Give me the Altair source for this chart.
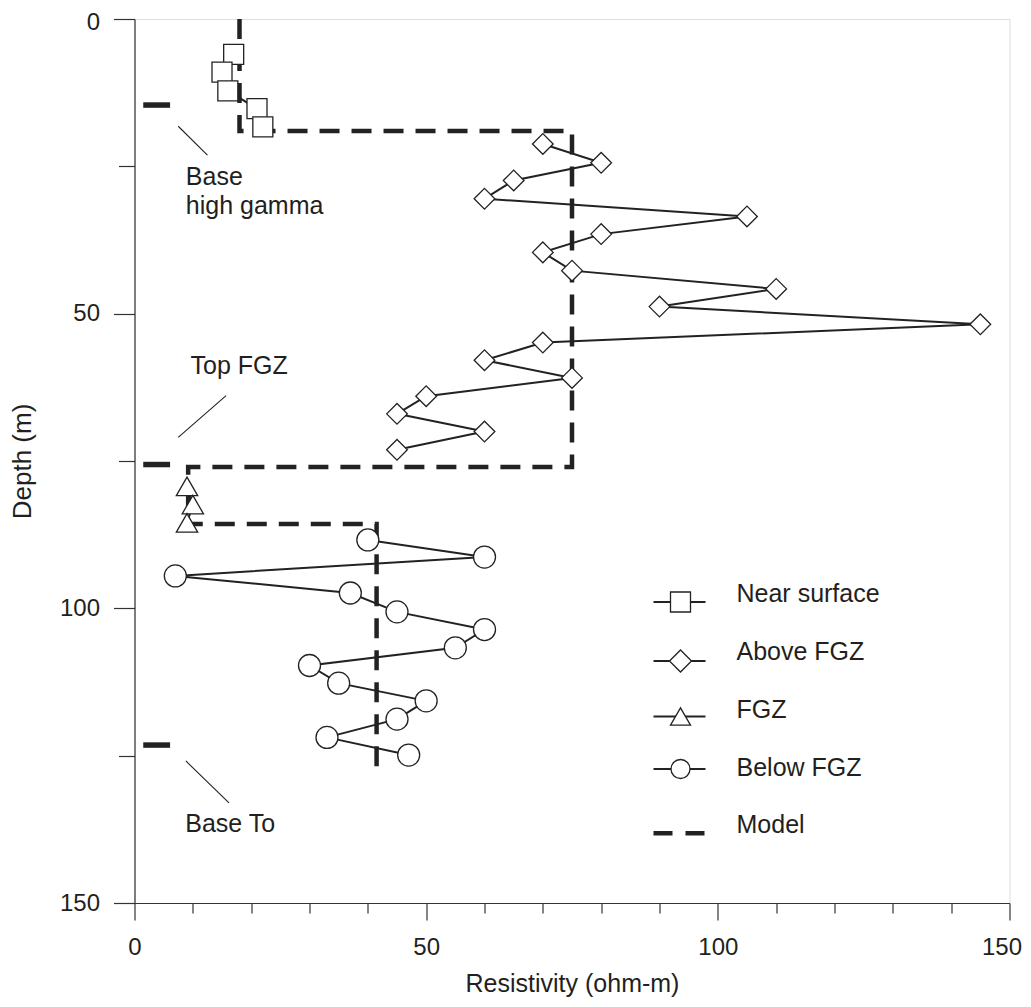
import altair as alt
import pandas as pd

# ---------------- data ----------------
near_res = [17, 15, 16, 21, 22]
near_depth = [6.0, 9.0, 12.2, 15.2, 18.3]

above_res = [70, 80, 65, 60, 105, 80, 70, 75, 110, 90, 145, 70, 60, 75, 50, 45, 60, 45]
above_depth = [21.2, 24.4, 27.4, 30.5, 33.5, 36.5, 39.6, 42.7, 45.8, 48.8, 51.8,
               54.9, 57.9, 60.9, 64.0, 67.0, 70.0, 73.1]

fgz_res = [9, 10, 9]
fgz_depth = [79.3, 82.4, 85.5]

below_res = [40, 60, 7, 37, 45, 60, 55, 30, 35, 50, 45, 33, 47]
below_depth = [88.4, 91.3, 94.5, 97.4, 100.6, 103.6, 106.7, 109.7, 112.7, 115.7,
               118.8, 121.9, 124.9]

model_res = [18, 18, 75, 75, 9.2, 9.2, 41.5, 41.5]
model_depth = [0, 19, 19, 76, 76, 85.7, 85.7, 127.4]

horizon_names = ["Base high gamma", "Top FGZ", "Base To"]
horizon_depth = [14.6, 75.6, 123.2]
horizon_x_start = [1.5, 1.5, 1.5]
horizon_x_end = [6.1, 6.1, 6.1]

leader_x1 = [7.5, 7.5, 8.8]
leader_y1 = [18.2, 71.0, 125.9]
leader_x2 = [12.5, 15.7, 16.2]
leader_y2 = [23.1, 63.9, 133.0]

annot_text = ["Base", "high gamma", "Top FGZ", "Base To"]
annot_x = [8.8, 8.8, 9.6, 8.7]
annot_y = [28.2, 33.1, 60.3, 137.9]

series_names = ["Near surface", "Above FGZ", "FGZ", "Below FGZ"]
series_shapes = ["square", "diamond", "triangle-up", "circle"]
series_sizes = [400, 484, 400, 361]

x_ticks = list(range(0, 151, 10))
y_ticks = list(range(0, 151, 25))

# ---------------- tables ----------------
obs = pd.concat([
    pd.DataFrame({"res": near_res, "depth": near_depth, "series": series_names[0]}),
    pd.DataFrame({"res": above_res, "depth": above_depth, "series": series_names[1]}),
    pd.DataFrame({"res": fgz_res, "depth": fgz_depth, "series": series_names[2]}),
    pd.DataFrame({"res": below_res, "depth": below_depth, "series": series_names[3]}),
], ignore_index=True)

model = pd.DataFrame({"res": model_res, "depth": model_depth, "i": range(len(model_res))})
horizons = pd.DataFrame({"name": horizon_names, "depth": horizon_depth,
                         "x1": horizon_x_start, "x2": horizon_x_end})
leaders = pd.DataFrame({"x1": leader_x1, "y1": leader_y1, "x2": leader_x2, "y2": leader_y2})
annots = pd.DataFrame({"text": annot_text, "x": annot_x, "y": annot_y})

FONT = "Liberation Sans"
INK = "#231f20"

xscale = alt.Scale(domain=[0, 150], nice=False, zero=False)
yscale = alt.Scale(domain=[0, 150], reverse=True, nice=False, zero=False)

xaxis = alt.Axis(
    values=x_ticks, title="Resistivity (ohm-m)", grid=False,
    labelExpr="datum.value % 50 == 0 ? datum.label : ''",
    tickSize={"condition": {"test": "datum.value % 50 == 0", "value": 17}, "value": 10},
    labelOffset={"condition": {"test": "datum.value == 150", "value": -8}, "value": 0},
    labelPadding=15, labelFontSize=24, titleFontSize=25, titlePadding=12,
    labelFont=FONT, titleFont=FONT, labelColor=INK, titleColor=INK,
    titleFontWeight="normal", domainColor="#333", tickColor="#333",
    domainWidth=1.2, tickWidth=1.2, labelOverlap=False, labelFlush=False,
)
yaxis = alt.Axis(
    values=y_ticks, title="Depth (m)", grid=False,
    labelExpr="datum.value % 50 == 0 ? datum.label : ''",
    tickSize={"condition": {"test": "datum.value % 50 == 0", "value": 21}, "value": 16},
    labelOffset={"condition": {"test": "datum.value == 0", "value": 3}, "value": 0},
    labelPadding=14, labelFontSize=24, titleFontSize=26, titlePadding=24,
    labelFont=FONT, titleFont=FONT, labelColor=INK, titleColor=INK,
    titleFontWeight="normal", domainColor="#333", tickColor="#333",
    domainWidth=1.2, tickWidth=1.2, labelOverlap=False, labelFlush=False,
)

model_layer = alt.Chart(model).mark_line(
    strokeDash=[20, 12], strokeWidth=4.5, color="#222"
).encode(
    x=alt.X("res:Q", scale=xscale, axis=xaxis),
    y=alt.Y("depth:Q", scale=yscale, axis=yaxis),
    order="i:Q",
)

obs_lines = alt.Chart(obs).mark_line(color="#222", strokeWidth=2).encode(
    x="res:Q", y="depth:Q", detail="series:N", order="depth:Q"
)

obs_points = alt.Chart(obs).mark_point(
    filled=True, fill="white", stroke="#222", strokeWidth=1.3, opacity=1
).encode(
    x="res:Q", y="depth:Q",
    shape=alt.Shape("series:N", scale=alt.Scale(domain=series_names, range=series_shapes), legend=None),
    size=alt.Size("series:N", scale=alt.Scale(domain=series_names, range=series_sizes), legend=None),
)

horizon_layer = alt.Chart(horizons).mark_rule(strokeWidth=5.5, color="#222").encode(
    x="x1:Q", x2="x2:Q", y="depth:Q"
)

leader_layer = alt.Chart(leaders).mark_rule(strokeWidth=1.1, color="#222").encode(
    x="x1:Q", y="y1:Q", x2="x2:Q", y2="y2:Q"
)

annot_layer = alt.Chart(annots).mark_text(
    align="left", baseline="alphabetic", fontSize=25, font=FONT, color=INK
).encode(x="x:Q", y="y:Q", text="text:N")

# ---------------- hand-drawn legend (pixel layout inside the plot) ----------------
one = pd.DataFrame({"k": [0]})
leg_line_x = (519, 571)
leg_sym_x = 546
leg_text_x = 602
leg_sym_y = [583, 642, 697.5, 750, 814.3]
leg_txt_y = [583.3, 641, 699.3, 757, 814.3]
legend_layers = []
for i, name in enumerate(series_names):
    legend_layers.append(alt.Chart(one).mark_rule(color="#222", strokeWidth=2).encode(
        x=alt.value(leg_line_x[0]), x2=alt.value(leg_line_x[1]), y=alt.value(leg_sym_y[i])))
    legend_layers.append(alt.Chart(one).mark_point(
        filled=True, fill="white", stroke="#222", strokeWidth=1.3, opacity=1,
        shape=series_shapes[i], size=series_sizes[i]
    ).encode(x=alt.value(leg_sym_x), y=alt.value(leg_sym_y[i])))
    legend_layers.append(alt.Chart(one).mark_text(
        align="left", baseline="alphabetic", fontSize=25, font=FONT, color=INK, text=name
    ).encode(x=alt.value(leg_text_x), y=alt.value(leg_txt_y[i])))
legend_layers.append(alt.Chart(one).mark_rule(color="#222", strokeWidth=4.5, strokeDash=[19, 13]).encode(
    x=alt.value(leg_line_x[0]), x2=alt.value(leg_line_x[1]), y=alt.value(leg_sym_y[4])))
legend_layers.append(alt.Chart(one).mark_text(
    align="left", baseline="alphabetic", fontSize=25, font=FONT, color=INK, text="Model"
).encode(x=alt.value(leg_text_x), y=alt.value(leg_txt_y[4])))

chart = alt.layer(
    model_layer, obs_lines, obs_points, horizon_layer, leader_layer, annot_layer, *legend_layers
).properties(
    width=875, height=884,
    autosize=alt.AutoSizeParams(type="none"),
    padding={"left": 126.5, "top": 11, "right": 13, "bottom": 104},
).configure_view(
    stroke="#555", strokeWidth=1.5
).configure(background="white")

chart.save("out.html", embed_options={"renderer": "svg", "actions": False})
